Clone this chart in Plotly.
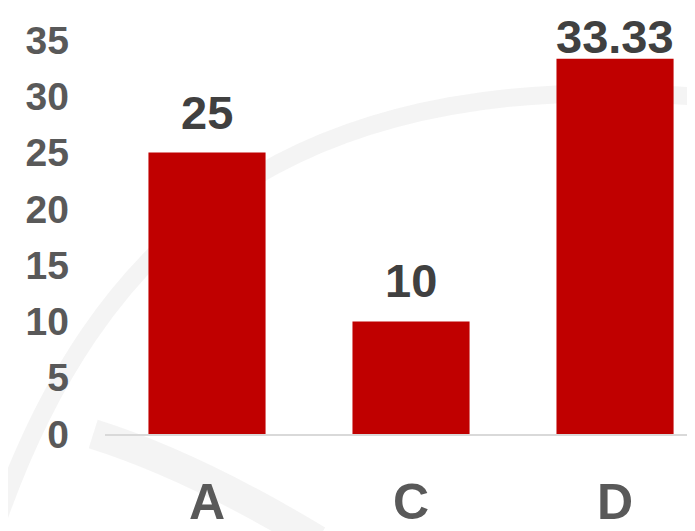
import plotly.graph_objects as go

categories = ["A", "C", "D"]
values = [25, 10, 33.33]
value_labels = ["25", "10", "33.33"]
label_shift = [12, 12, -6]
y_ticks = [0, 5, 10, 15, 20, 25, 30, 35]

fig = go.Figure()
fig.add_trace(go.Bar(
    x=categories, y=values,
    marker=dict(color="#C00000", line=dict(width=0)),
    cliponaxis=False,
))

for c, v, t, s in zip(categories, values, value_labels, label_shift):
    fig.add_annotation(x=c, y=v, text=t, showarrow=False, yanchor="bottom", yshift=s,
                       font=dict(family="Liberation Sans, Arial, sans-serif", size=47,
                                 color="#404040", weight="bold"))

# faint watermark arcs (decoration)
fig.add_shape(type="path", xref="paper", yref="paper", layer="below",
              path="M -0.2,-0.3 C -0.02,0.55 0.35,0.95 1.05,0.85",
              line=dict(color="rgba(200,200,200,0.2)", width=18))
fig.add_shape(type="path", xref="paper", yref="paper", layer="below",
              path="M -0.02,0.0 Q 0.15,-0.08 0.36,-0.27",
              line=dict(color="rgba(200,200,200,0.2)", width=30))

fig.update_layout(
    width=687, height=523,
    margin=dict(l=97, r=0, t=32, b=97),
    paper_bgcolor="white", plot_bgcolor="rgba(0,0,0,0)",
    showlegend=False, bargap=0.426,
    xaxis=dict(range=[-0.5, 2.392], showline=True, linecolor="#d9d9d9", linewidth=2,
               showgrid=False, zeroline=False, ticks="", ticklabelstandoff=23, automargin=False,
               tickfont=dict(family="Liberation Sans, Arial, sans-serif", size=50, color="#595959", weight="bold")),
    yaxis=dict(range=[0, 35], tickvals=y_ticks, showline=False, showgrid=False, zeroline=False,
               ticks="", ticklabelstandoff=35, automargin=False,
               tickfont=dict(family="Liberation Sans, Arial, sans-serif", size=39, color="#595959", weight="bold")),
)

fig.write_html("out.html")
